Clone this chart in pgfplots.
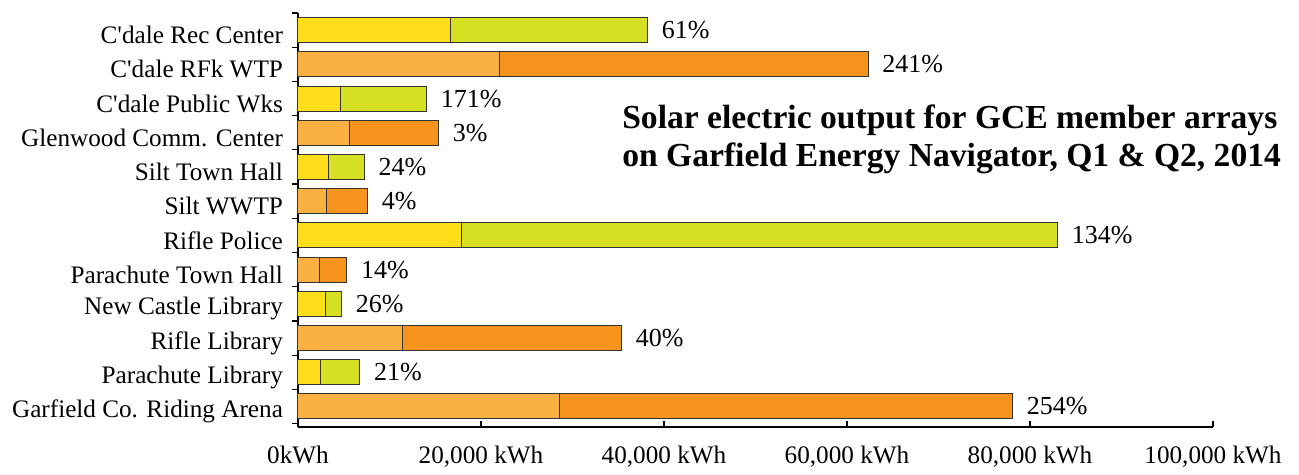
\documentclass[border=0pt]{standalone}
\usepackage{pgfplots}
\pgfplotsset{compat=1.18}
\usepackage{pgfplotstable}
\usepackage{fontspec}
\setmainfont{Liberation Serif}[Ligatures=TeXOff]
\definecolor{cyel}{HTML}{FEDD1A}
\definecolor{clime}{HTML}{D6E022}
\definecolor{clor}{HTML}{FBB042}
\definecolor{cor}{HTML}{F7941E}
\newcommand\lbl{\fontsize{12.6}{15}\selectfont}

\pgfplotstableread{
y yA yB oA oB tot lab
0 0 0 28560 49520 78080 254
1 2480 4260 0 0 6740 21
2 0 0 11440 23900 35340 40
3 2990 1750 0 0 4740 26
4 0 0 2330 2990 5320 14
5 17850 65150 0 0 83000 134
6 0 0 3100 4480 7580 4
7 3350 3900 0 0 7250 24
8 0 0 5610 9730 15340 3
9 4630 9400 0 0 14030 171
10 0 0 21970 40330 62300 241
11 16700 21500 0 0 38200 61
}\data

\begin{document}
\begin{tikzpicture}
\begin{axis}[
  name=ax,
  scale only axis,
  width=457.5pt, height=207pt,
  xbar stacked, bar width=12.5pt,
  xmin=0, xmax=100000,
  ymin=-0.6, ymax=11.5,
  axis x line*=bottom, axis y line*=left,
  axis line style={line width=0.9pt, -},
  xtick={0,20000,40000,60000,80000,100000},
  xticklabels={{0kWh},{20,000 kWh},{40,000 kWh},{60,000 kWh},{80,000 kWh},{100,000 kWh}},
  xtick align=inside,
  major x tick style={line width=0.8pt, black},
  major tick length=3pt,
  ytick={0,...,11},
  yticklabels={Garfield Co. Riding Arena, Parachute Library, Rifle Library, New Castle Library, Parachute Town Hall, Rifle Police, Silt WWTP, Silt Town Hall, Glenwood Comm. Center, C'dale Public Wks, C'dale RFk WTP, C'dale Rec Center},
  major y tick style={draw=none},
  minor ytick={-0.5,0.5,...,11.5},
  ytick align=outside,
  minor tick length=3pt,
  minor y tick style={line width=0.6pt, black},
  ticklabel style={font=\lbl, black},
  xticklabel style={yshift=-6pt},
  yticklabel style={xshift=-1pt, yshift=-2.5pt},
  scaled x ticks=false,
  clip=false,
]
\addplot[fill=cyel, draw=black!80, line width=0.5pt] table[x=yA, y=y] {\data};
\addplot[fill=clime, draw=black!80, line width=0.5pt] table[x=yB, y=y] {\data};
\addplot[fill=clor, draw=black!80, line width=0.5pt] table[x=oA, y=y] {\data};
\addplot[fill=cor, draw=black!80, line width=0.5pt] table[x=oB, y=y] {\data};
\node[anchor=west, align=left, inner sep=0pt,
  font=\fontsize{16.8}{19}\selectfont\bfseries]
  at (rel axis cs:0.354,0.695)
  {Solar electric output for GCE member arrays\\on Garfield Energy Navigator, Q1 \& Q2, 2014};
\end{axis}
\begin{axis}[
  at={(ax.south west)}, anchor=south west,
  scale only axis,
  width=457.5pt, height=207pt,
  xmin=0, xmax=100000,
  ymin=-0.6, ymax=11.5,
  hide axis, clip=false,
]
\addplot[draw=none, mark=none,
  point meta=explicit symbolic,
  nodes near coords={\pgfplotspointmeta\%},
  nodes near coords style={font=\fontsize{13}{15}\selectfont, black, anchor=west, inner sep=4pt, xshift=3pt}]
  table[x=tot, y=y, meta=lab] {\data};
\end{axis}
\path (ax.south west) ++(-149pt,-20pt) rectangle ++(649.5pt,233.5pt);
\end{tikzpicture}
\end{document}
